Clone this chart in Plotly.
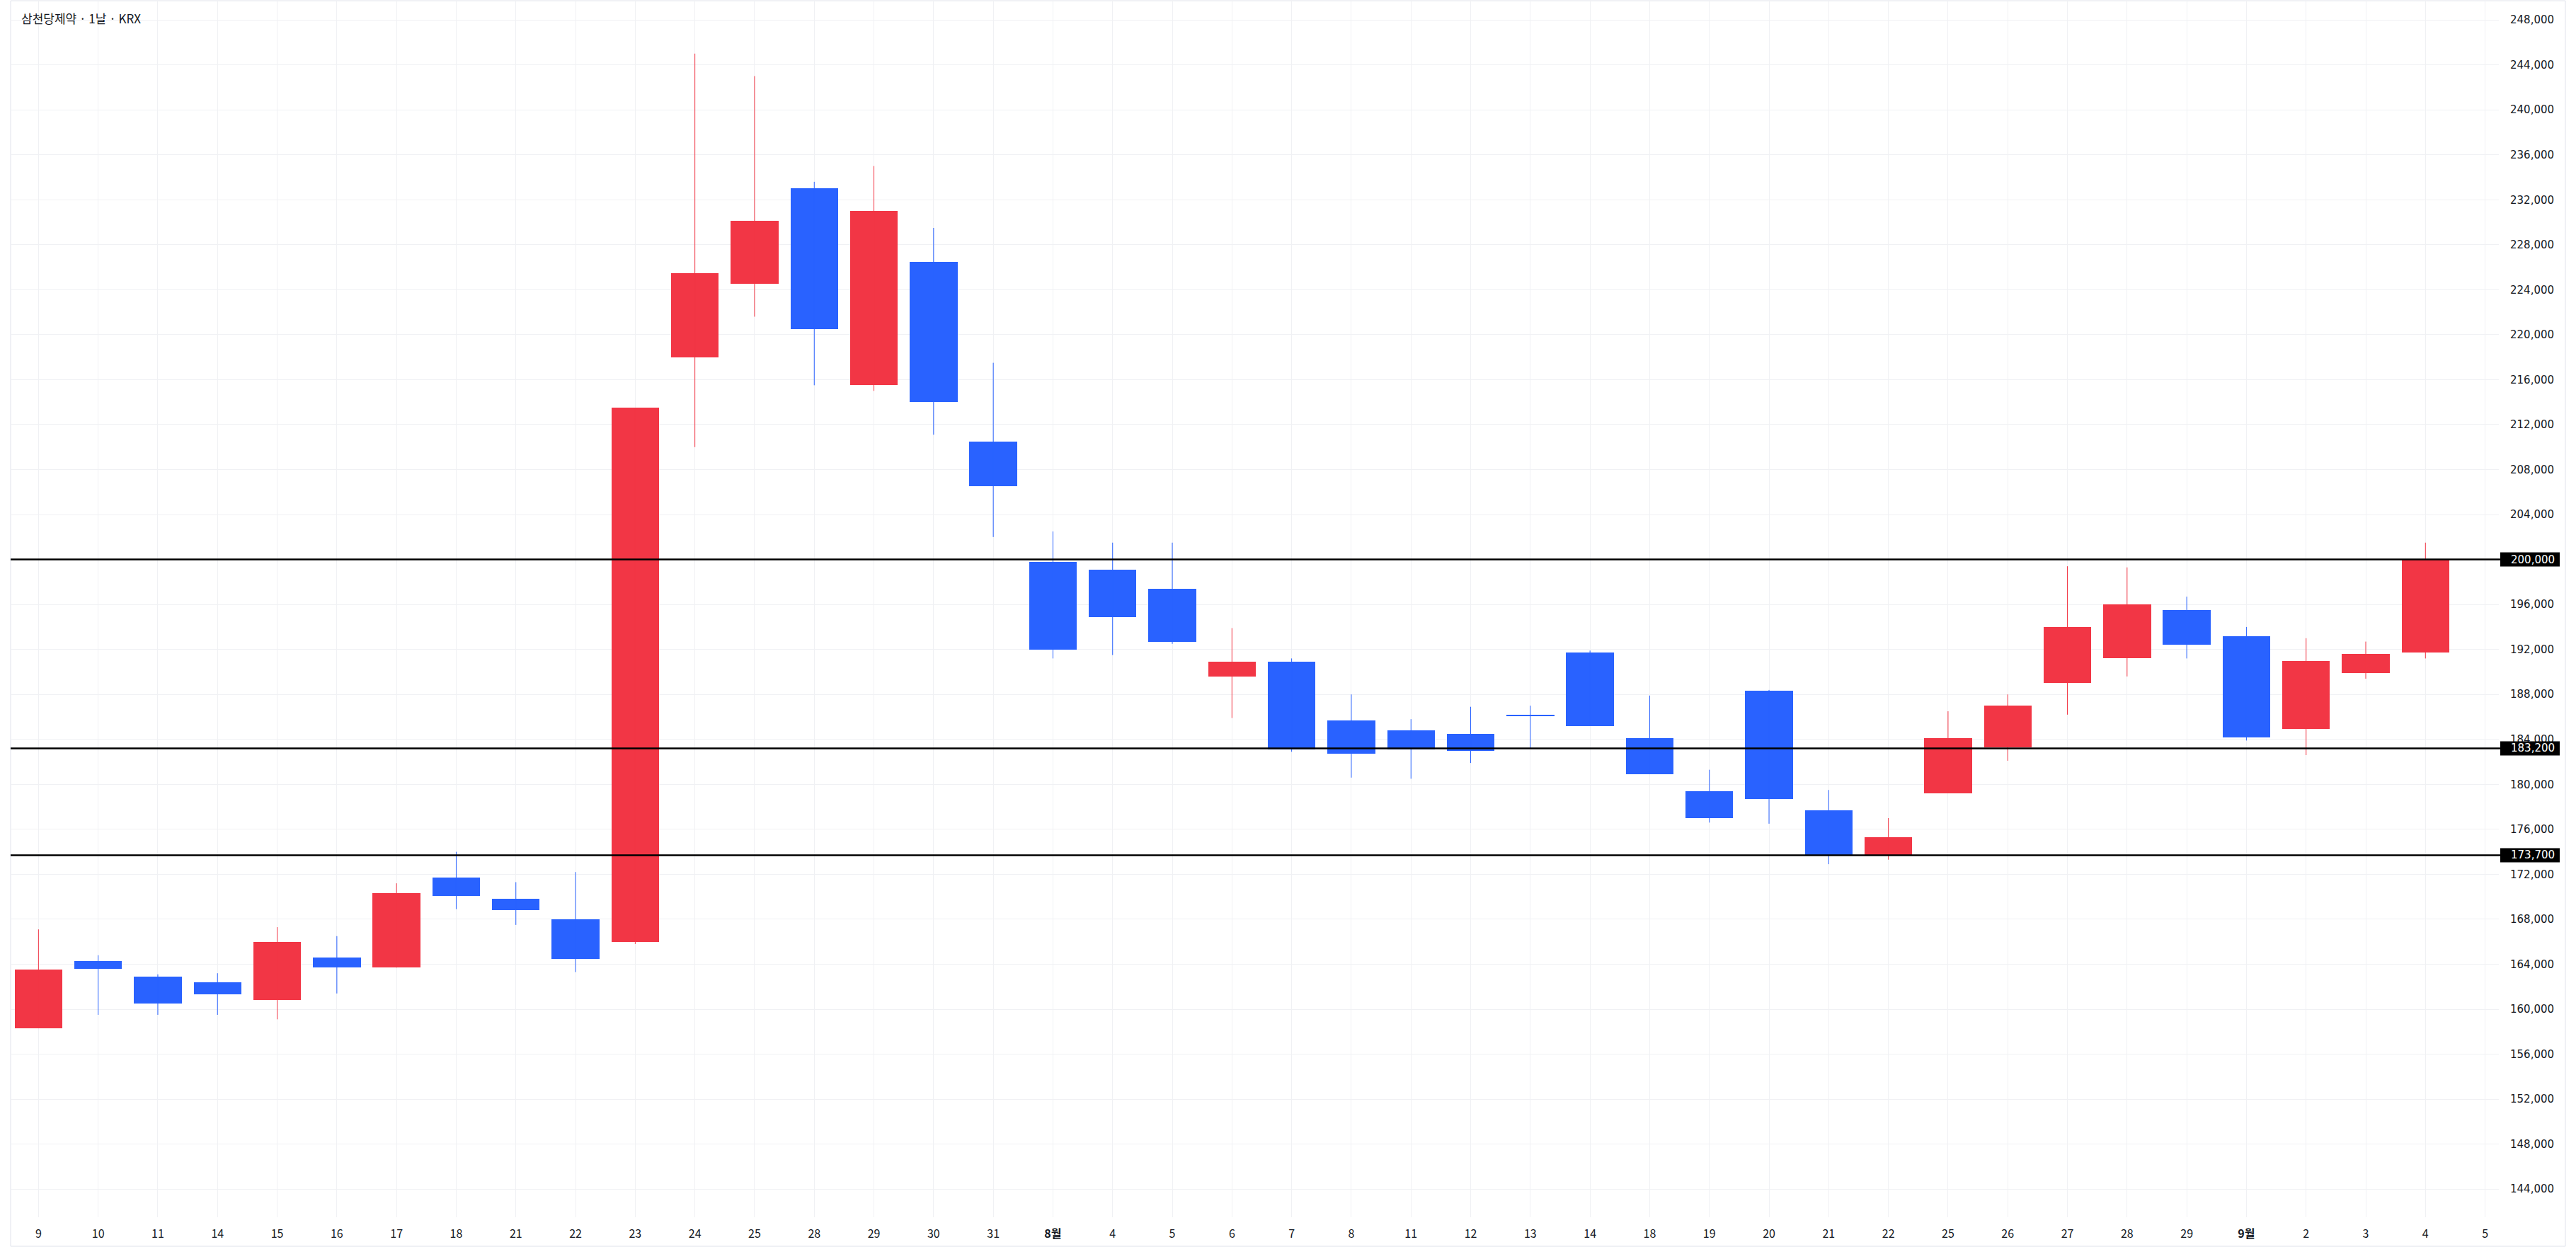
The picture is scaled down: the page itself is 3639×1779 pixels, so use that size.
import plotly.graph_objects as go

# ---- data ----
tick_labels = ["9", "10", "11", "14", "15", "16", "17", "18", "21", "22", "23", "24", "25", "28", "29",
               "30", "31", "<b>8월</b>", "4", "5", "6", "7", "8", "11", "12", "13", "14", "18", "19", "20",
               "21", "22", "25", "26", "27", "28", "29", "<b>9월</b>", "2", "3", "4", "5"]

opens = [158300, 164300, 162900, 162400, 160800, 164600, 163700, 171700, 169800, 168000,
         166000, 218000, 224500, 233000, 215500, 226500, 210500, 199800, 199100, 197400,
         189600, 190900, 185700, 184800, 184500, 186200, 191700, 184100, 179400, 188300,
         177700, 173700, 179200, 183300, 189000, 191200, 195500, 193200, 184900, 189900, 191700]
highs = [167100, 164800, 163100, 163200, 167300, 166500, 171200, 174000, 171300, 172200,
         213500, 245000, 243000, 233600, 235000, 229500, 217500, 202500, 201500, 201500,
         193900, 191200, 188000, 185800, 186900, 187000, 191900, 187900, 181300, 188400,
         179500, 177000, 186500, 188000, 199400, 199300, 196700, 194000, 193000, 192700, 201500]
lows = [158300, 159500, 159500, 159500, 159100, 161400, 163700, 168900, 167500, 163300,
        165800, 210000, 221600, 215500, 215000, 211100, 202000, 191200, 191500, 192500,
        185900, 182900, 180600, 180500, 181900, 183200, 185200, 180900, 176600, 176500,
        172900, 173300, 179200, 182100, 186200, 189600, 191200, 183900, 182600, 189400, 191200]
closes = [163500, 163600, 160500, 161300, 166000, 163700, 170300, 170100, 168800, 164500,
          213500, 225500, 230100, 220500, 231000, 214000, 206500, 192000, 194900, 192700,
          190900, 183100, 182700, 183100, 183000, 186100, 185200, 180900, 177000, 178700,
          173700, 175300, 184100, 187000, 194000, 196000, 192400, 184200, 191000, 191600, 200000]

price_lines = [200000, 183200, 173700]
price_line_labels = ["200,000", "183,200", "173,700"]
title_text = "삼천당제약 · 1날 · KRX"

UP = "#F23645"
DOWN = "#2962FF"

n = len(opens)
xs = list(range(n))
colors = [UP if c >= o else DOWN for o, c in zip(opens, closes)]

fig = go.Figure()

# wicks
for col in (UP, DOWN):
    wx, wy = [], []
    for i in xs:
        if colors[i] == col:
            wx += [i, i, None]
            wy += [lows[i], highs[i], None]
    fig.add_trace(go.Scatter(x=wx, y=wy, mode="lines", line=dict(color=col, width=1),
                             hoverinfo="skip", showlegend=False))

# bodies
bases = [min(o, c) for o, c in zip(opens, closes)]
heights = [max(abs(c - o), 120) for o, c in zip(opens, closes)]
fig.add_trace(go.Bar(x=xs, y=heights, base=bases, width=0.8, marker=dict(color=colors, line=dict(width=0)),
                     showlegend=False, hoverinfo="skip"))

W, H = 3639, 1779
ml, mr, mt, mb = 15, 109, 0, 59
pw = W - ml - mr
ph = H - mt - mb

# price lines
for v in price_lines:
    fig.add_shape(type="line", xref="paper", yref="y", x0=0, x1=1 + 2 / pw, y0=v, y1=v,
                  line=dict(color="#000000", width=2.5), layer="above")

# y range
y_top = 249770
y_bot = 141494
px_per_unit = ph / (y_top - y_bot)

for v, lab in zip(price_lines, price_line_labels):
    half = 10 / px_per_unit
    fig.add_shape(type="rect", xref="paper", yref="y", x0=1 + 2 / pw, x1=1 + 86 / pw,
                  y0=v - half, y1=v + half, fillcolor="#000000", line=dict(width=0), layer="above")
    fig.add_annotation(xref="paper", yref="y", x=1 + 15 / pw, y=v, text=lab, showarrow=False,
                       xanchor="left", yanchor="middle",
                       font=dict(family="DejaVu Sans", size=15, color="#FFFFFF"))

# outer border
fig.add_shape(type="rect", xref="paper", yref="paper", x0=0, x1=1 + 94 / pw,
              y0=-41 / ph, y1=1 - 1 / ph, line=dict(color="#E0E3EB", width=1), layer="below")

fig.add_annotation(xref="paper", yref="paper", x=0, y=1 - 25 / ph, xshift=13, text=title_text,
                   showarrow=False, xanchor="left", yanchor="middle",
                   font=dict(family="Noto Sans CJK KR", size=17, color="#131722"))

fig.update_layout(
    width=W, height=H,
    margin=dict(l=ml, r=mr, t=mt, b=mb),
    paper_bgcolor="#FFFFFF", plot_bgcolor="#FFFFFF",
    barmode="overlay", bargap=0,
    showlegend=False,
    xaxis=dict(range=[-0.467, 41.23], tickmode="array", tickvals=list(range(len(tick_labels))),
               ticktext=tick_labels, showgrid=True, gridcolor="#F0F1F4", gridwidth=1,
               zeroline=False, showline=False, ticks="", ticklabelstandoff=12,
               tickfont=dict(family="Noto Sans CJK KR", size=16, color="#131722"), fixedrange=True),
    yaxis=dict(range=[y_bot, y_top], side="right", tickmode="array",
               tickvals=list(range(144000, 248001, 4000)),
               ticktext=[f"{v:,}" for v in range(144000, 248001, 4000)],
               showgrid=True, gridcolor="#F0F1F4", gridwidth=1, zeroline=False, showline=False,
               ticks="", ticklabelstandoff=15,
               tickfont=dict(family="DejaVu Sans", size=15, color="#131722")),
)

fig.write_html("out.html", config={"displayModeBar": False},
               post_script="document.body.style.margin='0px';document.body.style.padding='0px';")
